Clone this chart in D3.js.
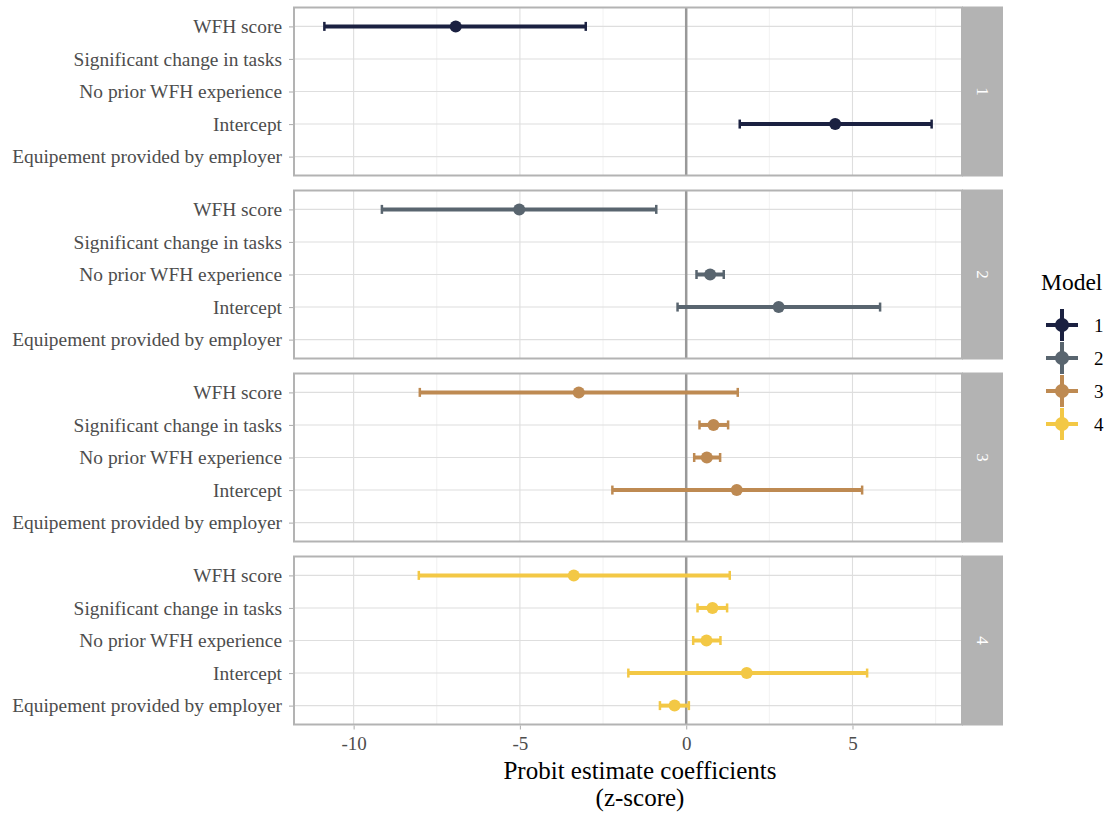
<!DOCTYPE html>
<html><head><meta charset="utf-8">
<script src="https://cdn.jsdelivr.net/npm/d3@7"></script>
<style>body{margin:0;background:#fff}svg{display:block}</style>
</head><body>
<svg id="chart" width="1110" height="813"></svg>
<script>
const terms = ["WFH score","Significant change in tasks","No prior WFH experience","Intercept","Equipement provided by employer"];
const models = ["1","2","3","4"];
const colors = ["#1b2141","#59656f","#be8a52","#f3c845"];
// per model: estimate, lower, upper (null = not in model), order follows terms
const model1Est  = [-6.93, null, null, 4.48, null];
const model1Low  = [-10.88, null, null, 1.61, null];
const model1High = [-3.02, null, null, 7.38, null];
const model2Est  = [-5.02, null, 0.72, 2.78, null];
const model2Low  = [-9.15, null, 0.31, -0.26, null];
const model2High = [-0.90, null, 1.13, 5.83, null];
const model3Est  = [-3.23, 0.82, 0.62, 1.52, null];
const model3Low  = [-8.01, 0.40, 0.24, -2.22, null];
const model3High = [1.55, 1.26, 1.02, 5.29, null];
const model4Est  = [-3.38, 0.79, 0.61, 1.82, -0.35];
const model4Low  = [-8.04, 0.34, 0.21, -1.74, -0.79];
const model4High = [1.31, 1.23, 1.03, 5.44, 0.08];
const xTicks = [-10, -5, 0, 5];
const xMinor = [-7.5, -2.5, 2.5, 7.5];
const xTitle = ["Probit estimate coefficients", "(z-score)"];
const legendTitle = "Model";

const est = [model1Est, model2Est, model3Est, model4Est];
const low = [model1Low, model2Low, model3Low, model4Low];
const high = [model1High, model2High, model3High, model4High];

const rows = [];
models.forEach((m, i) => terms.forEach((t, j) => {
  if (est[i][j] !== null) rows.push({model: m, mi: i, term: t, est: est[i][j], lo: low[i][j], hi: high[i][j]});
}));

const svg = d3.select("#chart");
const font = "'Liberation Serif', 'DejaVu Serif', serif";
const pL = 294, pR = 962, stripW = 41, panelH = 168, panelGap = 15, top0 = 7.5;

const allVals = rows.flatMap(d => [d.lo, d.hi]);
const [mn, mx] = d3.extent(allVals);
const pad = (mx - mn) * 0.05;
const x = d3.scaleLinear().domain([mn - pad, mx + pad]).range([pL, pR]);

models.forEach((m, i) => {
  const top = top0 + i * (panelH + panelGap);
  const y = d3.scalePoint().domain(terms).range([top, top + panelH]).padding(0.58);
  const g = svg.append("g");
  g.selectAll(".minor").data(xMinor.filter(v => x(v) > pL && x(v) < pR)).join("line")
    .attr("x1", d => x(d)).attr("x2", d => x(d)).attr("y1", top).attr("y2", top + panelH)
    .attr("stroke", "#ededed").attr("stroke-width", 0.8);
  g.selectAll(".major").data(xTicks).join("line")
    .attr("x1", d => x(d)).attr("x2", d => x(d)).attr("y1", top).attr("y2", top + panelH)
    .attr("stroke", "#dedede").attr("stroke-width", 1.1);
  g.selectAll(".hgrid").data(terms).join("line")
    .attr("x1", pL).attr("x2", pR).attr("y1", d => y(d)).attr("y2", d => y(d))
    .attr("stroke", "#dedede").attr("stroke-width", 1.1);
  g.append("line").attr("x1", x(0)).attr("x2", x(0)).attr("y1", top).attr("y2", top + panelH)
    .attr("stroke", "#999999").attr("stroke-width", 2.5);
  const data = rows.filter(d => d.model === m);
  const col = colors[i];
  data.forEach(d => {
    const yy = y(d.term);
    g.append("line").attr("x1", x(d.lo)).attr("x2", x(d.hi)).attr("y1", yy).attr("y2", yy)
      .attr("stroke", col).attr("stroke-width", 4);
    [d.lo, d.hi].forEach(v => g.append("line").attr("x1", x(v)).attr("x2", x(v))
      .attr("y1", yy - 4.5).attr("y2", yy + 4.5).attr("stroke", col).attr("stroke-width", 2.5));
    g.append("circle").attr("cx", x(d.est)).attr("cy", yy).attr("r", 6).attr("fill", col);
  });
  g.append("rect").attr("x", pL).attr("y", top).attr("width", pR - pL).attr("height", panelH)
    .attr("fill", "none").attr("stroke", "#b3b3b3").attr("stroke-width", 2);
  g.append("rect").attr("x", pR).attr("y", top - 1).attr("width", stripW).attr("height", panelH + 2)
    .attr("fill", "#b3b3b3");
  g.append("text").attr("transform", `translate(${pR + stripW / 2},${top + panelH / 2}) rotate(90)`)
    .attr("text-anchor", "middle").attr("dy", "0.35em").attr("fill", "#ffffff")
    .attr("font-family", font).attr("font-size", 17).text(m);
  const ya = d3.axisLeft(y).tickSize(4).tickPadding(7);
  const ag = g.append("g").attr("transform", `translate(${pL - 1},0)`).call(ya);
  ag.select(".domain").remove();
  ag.selectAll(".tick line").attr("stroke", "#b3b3b3").attr("stroke-width", 1.1);
  ag.selectAll(".tick text").attr("fill", "#4d4d4d").attr("font-family", font).attr("font-size", 19.4);
  if (i === models.length - 1) {
    const xa = d3.axisBottom(x).tickValues(xTicks).tickSize(4).tickPadding(7).tickFormat(d3.format("d"));
    const xg = g.append("g").attr("transform", `translate(0,${top + panelH + 1})`).call(xa);
    xg.select(".domain").remove();
    xg.selectAll(".tick line").attr("stroke", "#b3b3b3").attr("stroke-width", 1.1);
    xg.selectAll(".tick text").attr("fill", "#4d4d4d").attr("font-family", font).attr("font-size", 19)
      .text(d => d < 0 ? "-" + Math.abs(d) : d);
  }
});

xTitle.forEach((t, k) => svg.append("text").attr("x", 640).attr("y", 779 + k * 27)
  .attr("text-anchor", "middle").attr("fill", "#000").attr("font-family", font).attr("font-size", 25).text(t));

const lg = svg.append("g");
lg.append("text").attr("x", 1041).attr("y", 290).attr("font-family", font).attr("font-size", 23.5)
  .attr("fill", "#000").text(legendTitle);
const ly = d3.scalePoint().domain(models).range([325, 424]);
models.forEach((m, i) => {
  const cy = ly(m), cx = 1062, col = colors[i];
  lg.append("line").attr("x1", cx - 16).attr("x2", cx + 16).attr("y1", cy).attr("y2", cy).attr("stroke", col).attr("stroke-width", 4);
  lg.append("line").attr("x1", cx).attr("x2", cx).attr("y1", cy - 16).attr("y2", cy + 16).attr("stroke", col).attr("stroke-width", 4);
  lg.append("circle").attr("cx", cx).attr("cy", cy).attr("r", 7).attr("fill", col);
  lg.append("text").attr("x", 1094).attr("y", cy).attr("dy", "0.35em").attr("font-family", font)
    .attr("font-size", 19).attr("fill", "#000").text(m);
});
</script>
</body></html>
